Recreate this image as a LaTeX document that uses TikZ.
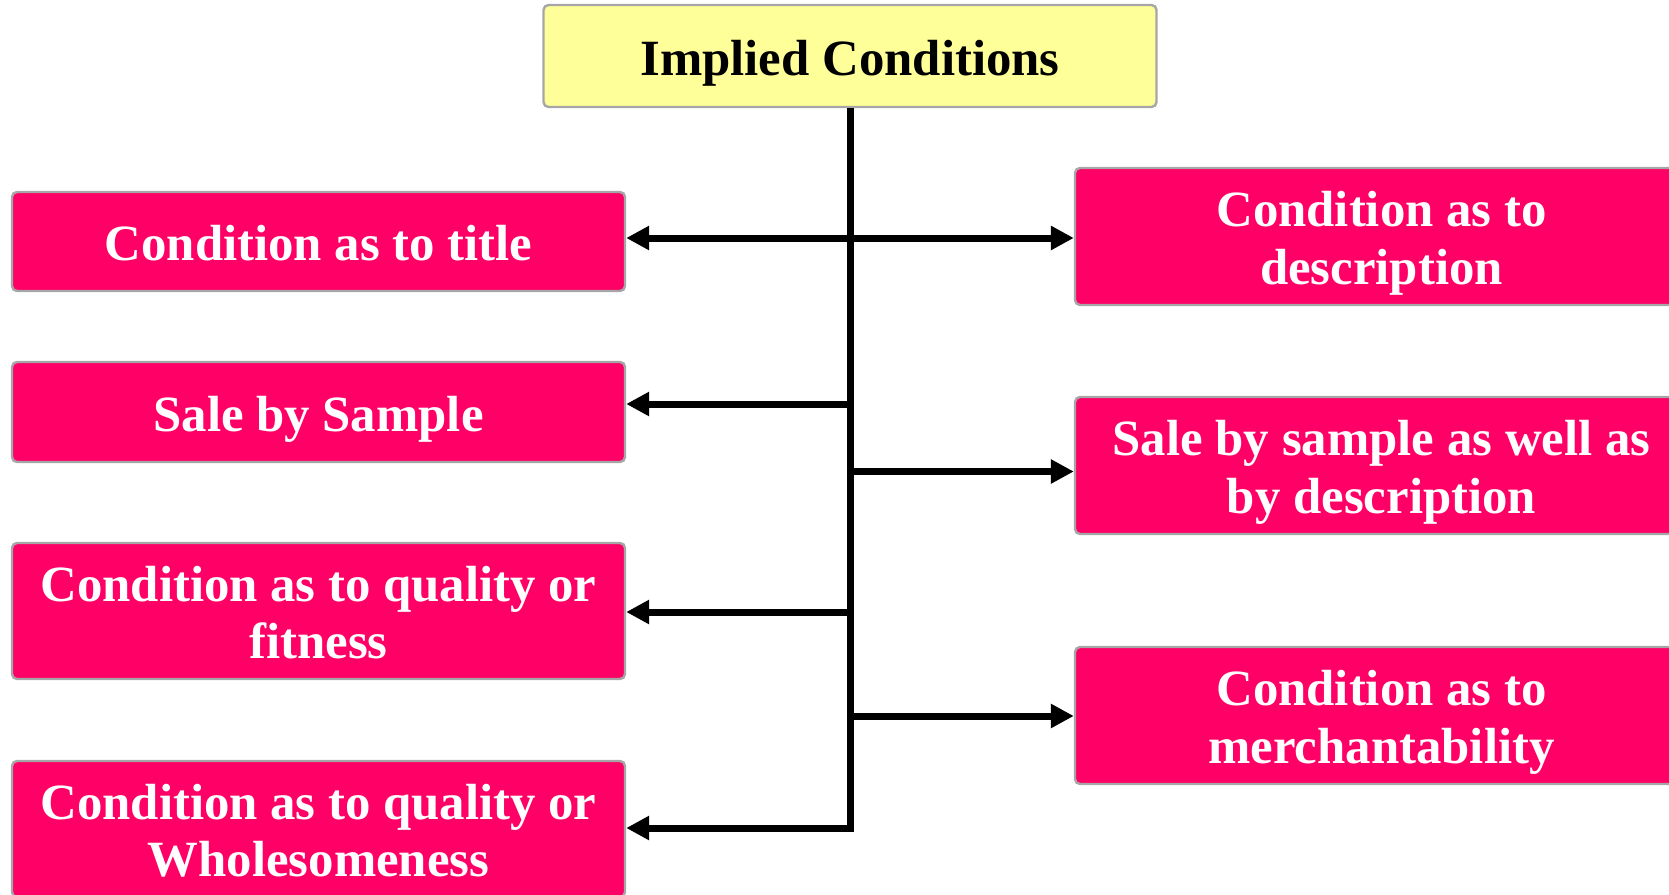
\documentclass[tikz,border=0pt]{standalone}
\usepackage{fontspec}
\setmainfont{Liberation Serif}
\usetikzlibrary{arrows.meta}
\definecolor{pinkfill}{HTML}{FF0066}
\definecolor{yellowfill}{HTML}{FFFF99}
\definecolor{edgegray}{HTML}{A6A6A6}
\newcommand{\myhs}{\rule{0pt}{25pt}}
\newcommand{\myds}{\rule[-6pt]{0pt}{6pt}}
\begin{document}
\begin{tikzpicture}[x=0.5pt,y=-0.5pt,
  box/.style={draw=edgegray, line width=1.2pt, rounded corners=2.5pt,
    minimum width=306.5pt, align=center, inner sep=0pt,
    font=\fontsize{25.4}{28.75}\selectfont\bfseries},
  pbox/.style={box, fill=pinkfill, text=white},
  ybox/.style={box, fill=yellowfill, text=black},
  spine/.style={line width=3.5pt, black},
  arr/.style={line width=3.5pt, black, -{Triangle[length=11.5pt,width=11.5pt]}}]
\useasboundingbox (0,0) rectangle (1669,894);
\node[ybox, minimum height=51pt] (top) at (850,56) {\myhs Implied Conditions\myds};
\node[pbox, minimum height=49.5pt] (L1) at (318.5,241.5) {\myhs Condition as to title\myds};
\node[pbox, minimum height=50pt] (L2) at (318.5,412) {\myhs Sale by Sample\myds};
\node[pbox, minimum height=68pt] (L3) at (318.5,611) {\myhs Condition as to quality or\\fitness\myds};
\node[pbox, minimum height=68pt] (L4) at (318.5,829) {\myhs Condition as to quality or\\Wholesomeness\myds};
\node[pbox, minimum height=68.5pt] (R1) at (1381.5,236.5) {\myhs Condition as to\\description\myds};
\node[pbox, minimum height=68.5pt] (R2) at (1381.5,465.5) {\myhs Sale by sample as well as\\by description\myds};
\node[pbox, minimum height=68.5pt] (R3) at (1381.5,715.5) {\myhs Condition as to\\merchantability\myds};
\coordinate (b1) at (850,238);
\coordinate (b2) at (850,404);
\coordinate (b3) at (850,471.5);
\coordinate (b4) at (850,612);
\coordinate (b5) at (850,716);
\coordinate (b6) at (850,828);
\draw[spine] (top.south) -- ([yshift=-1.75pt]b6);
\draw[arr] (b1) -- (b1 -| L1.east);
\draw[arr] (b1) -- (b1 -| R1.west);
\draw[arr] (b2) -- (b2 -| L2.east);
\draw[arr] (b3) -- (b3 -| R2.west);
\draw[arr] (b4) -- (b4 -| L3.east);
\draw[arr] (b5) -- (b5 -| R3.west);
\draw[arr] (b6) -- (b6 -| L4.east);
\end{tikzpicture}
\end{document}
